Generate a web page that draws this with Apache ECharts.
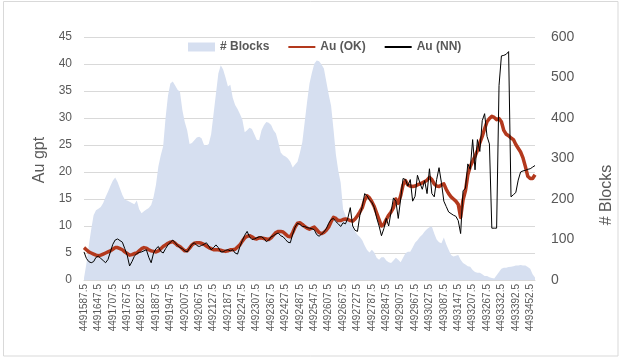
<!DOCTYPE html>
<html>
<head>
<meta charset="utf-8">
<script src="https://cdn.jsdelivr.net/npm/echarts@6/dist/echarts.min.js"></script>
<style>
html,body{margin:0;padding:0;background:#fff;}
#chart{width:620px;height:358px;}
</style>
</head>
<body>
<div id="chart"></div>
<script>
// Northing coordinates (every other block row; one row missing before 4493332.5)
const categories = [];
for (let j = 0; j < 189; j++) categories.push(String(4491587.5 + 10 * j + (j > 168 ? 5 : 0)));

const blocks = [
  5,40,85,125,160,172,176,180,190,205,
  218,232,245,253,242,226,210,198,196,193,
  190,187,196,175,165,170,174,178,185,205,
  235,280,308,330,400,455,485,490,480,470,
  465,420,390,370,336,338,345,352,354,350,
  334,332,336,360,410,460,510,530,520,500,
  478,482,450,432,422,410,396,365,370,376,
  373,360,346,345,370,382,390,388,383,370,
  362,340,315,308,305,300,292,278,285,292,
  314,340,390,440,485,512,534,542,540,532,
  522,490,458,430,372,310,270,240,175,160,
  148,140,130,120,112,106,98,85,74,68,
  75,68,55,50,56,56,48,44,42,48,
  55,50,44,55,66,70,70,80,92,98,
  106,112,120,126,130,132,115,100,93,91,
  105,88,75,62,58,60,62,50,42,38,
  34,33,25,20,18,18,14,10,10,7,
  5,4,12,20,28,30,30,32,33,34,
  36,36,37,36,36,32,28,14,6
];

const auOK = [
  6.0,5.6,5.2,5.0,4.8,4.6,4.5,4.6,4.8,5.0,
  5.2,5.4,5.7,6.0,6.0,5.8,5.6,5.2,4.9,4.6,
  4.7,4.9,5.0,5.4,5.8,6.0,5.9,5.6,5.4,5.3,
  5.2,5.4,5.8,6.2,6.5,6.8,7.0,7.1,6.8,6.4,
  6.2,5.8,5.4,5.4,5.9,6.5,6.8,6.9,6.9,6.8,
  6.6,6.3,6.0,5.8,5.6,5.6,5.6,5.5,5.4,5.3,
  5.4,5.6,5.6,5.7,6.1,6.5,7.2,7.8,8.1,8.2,
  8.0,7.7,7.6,7.8,7.8,7.7,7.6,7.5,7.8,8.3,
  8.8,9.0,9.0,8.9,8.5,8.1,8.0,8.8,9.8,10.5,
  10.6,10.3,9.9,9.6,9.4,9.6,9.8,9.3,8.8,8.6,
  8.8,9.2,9.8,10.8,11.6,11.4,11.0,11.0,11.2,11.3,
  11.2,11.0,10.9,11.3,11.9,12.6,13.4,14.8,15.6,15.2,
  14.5,13.6,12.4,11.2,10.0,10.3,11.2,12.0,12.6,13.4,
  15.0,14.2,15.6,17.6,18.4,17.6,17.4,17.3,17.4,17.6,
  17.8,18.0,18.2,18.5,19.0,18.6,17.8,17.4,17.3,17.6,
  17.8,16.8,16.0,15.4,15.0,14.6,14.0,11.6,14.8,16.5,
  19.5,21.0,22.0,22.9,24.0,25.4,26.6,28.0,29.3,29.9,
  30.3,30.1,29.7,29.9,29.3,27.7,27.0,26.7,26.3,26.0,
  25.1,24.4,23.7,22.6,21.0,19.2,18.8,18.8,19.5
];

const auNN = [
  5.2,4.0,3.4,3.2,3.4,4.2,4.4,4.0,3.6,3.2,
  3.8,5.2,6.6,7.4,7.6,7.3,7.0,5.8,4.6,2.6,
  3.4,4.4,4.9,5.1,5.2,5.4,5.6,4.2,3.2,5.0,
  5.8,6.2,5.3,5.0,5.8,6.5,7.0,7.4,6.9,6.4,
  6.0,5.8,5.4,5.2,5.9,6.6,6.9,6.4,6.2,6.4,
  6.6,6.9,6.3,5.6,6.0,6.5,6.0,5.2,5.2,5.5,
  5.6,5.4,5.6,5.0,4.8,6.2,7.3,8.3,9.0,8.0,
  7.5,7.6,7.8,8.0,8.0,7.7,7.1,7.4,8.0,8.2,
  8.5,8.7,8.2,8.0,7.5,7.0,6.9,8.5,9.8,10.5,
  10.3,9.9,9.9,9.7,9.6,9.5,9.3,8.4,8.1,8.5,
  8.9,9.5,10.5,11.2,11.4,10.8,10.4,9.9,10.6,10.4,
  11.5,13.4,10.0,9.2,9.0,12.0,13.6,16.0,15.6,14.8,
  14.4,13.4,11.5,10.0,8.2,9.5,11.4,10.0,12.6,15.2,
  14.6,11.4,15.0,18.8,18.6,17.4,18.6,14.6,15.5,19.4,
  18.0,16.8,18.4,16.0,20.6,16.0,15.4,18.6,20.8,18.0,
  14.6,13.6,12.6,12.3,12.0,11.8,11.0,8.6,16.5,17.0,
  21.5,20.5,26.0,20.4,26.0,23.8,29.5,30.8,26.6,25.2,
  9.6,9.6,9.6,36.0,41.5,41.6,41.8,42.3,15.4,15.8,
  16.2,18.5,20.0,20.2,20.3,20.5,20.6,20.9,21.2
];

const FONT = '"Liberation Sans", Arial, sans-serif';
const GREY = '#595959';

const chart = echarts.init(document.getElementById('chart'), null, {renderer: 'canvas'});
chart.setOption({
  animation: false,
  backgroundColor: '#ffffff',
  textStyle: {fontFamily: FONT},
  grid: {left: 84, right: 85, top: 37, bottom: 78, containLabel: false},
  legend: {
    left: 183, top: 36, itemGap: 18, itemWidth: 27, itemHeight: 9,
    textStyle: {fontSize: 12, fontWeight: 'bold', color: GREY, fontFamily: FONT},
    data: [
      {name: '# Blocks', icon: 'rect'},
      {name: 'Au (OK)', itemStyle: {opacity: 0}},
      {name: 'Au (NN)', itemStyle: {opacity: 0}}
    ]
  },
  xAxis: {
    type: 'category', data: categories, boundaryGap: false,
    axisLine: {lineStyle: {color: '#D9D9D9'}},
    axisTick: {show: false},
    axisLabel: {interval: 5, rotate: 90, fontSize: 10, color: GREY, margin: 4, fontFamily: FONT}
  },
  yAxis: [
    {
      type: 'value', min: 0, max: 45, interval: 5,
      axisLine: {show: false}, axisTick: {show: false},
      axisLabel: {fontSize: 12, color: GREY, margin: 12, fontFamily: FONT},
      splitLine: {lineStyle: {color: '#D9D9D9', width: 1}}
    },
    {
      type: 'value', min: 0, max: 600, interval: 100, position: 'right',
      axisLine: {show: false}, axisTick: {show: false},
      axisLabel: {fontSize: 14, color: GREY, margin: 16, fontFamily: FONT},
      splitLine: {show: false}
    }
  ],
  graphic: [
    {type: 'rect', silent: true, shape: {x: 3.5, y: 1.5, width: 614.5, height: 354.5},
      style: {fill: 'none', stroke: '#D9D9D9', lineWidth: 1}},
    {type: 'text', x: 40, y: 160, rotation: Math.PI / 2,
      style: {text: 'Au gpt', align: 'center', verticalAlign: 'middle', fill: GREY, font: '16px ' + FONT}},
    {type: 'text', x: 607, y: 195, rotation: Math.PI / 2,
      style: {text: '# Blocks', align: 'center', verticalAlign: 'middle', fill: GREY, font: '16px ' + FONT}}
  ],
  series: [
    {
      name: '# Blocks', type: 'line', yAxisIndex: 1, data: blocks,
      symbol: 'none', color: '#D6DFF0',
      lineStyle: {width: 0, color: '#D6DFF0'},
      areaStyle: {color: '#D6DFF0', opacity: 1},
      z: 1
    },
    {
      name: 'Au (OK)', type: 'line', yAxisIndex: 0, data: auOK,
      symbol: 'none', color: '#B3391D',
      lineStyle: {width: 3.5, color: '#B3391D', join: 'round'},
      z: 2
    },
    {
      name: 'Au (NN)', type: 'line', yAxisIndex: 0, data: auNN,
      symbol: 'none', color: '#000000',
      lineStyle: {width: 1, color: '#000000'},
      z: 3
    }
  ]
});
</script>
</body>
</html>
